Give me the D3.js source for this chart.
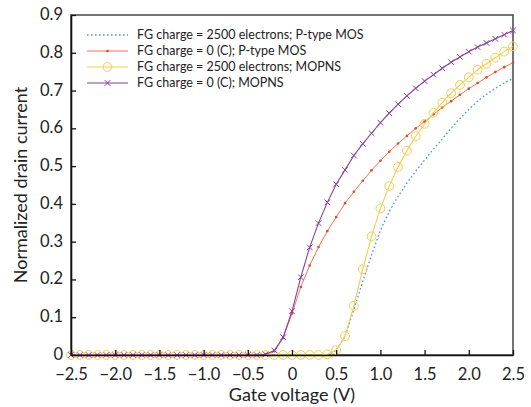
<!DOCTYPE html>
<html>
<head>
<meta charset="utf-8">
<script src="https://cdn.jsdelivr.net/npm/d3@7"></script>
<style>
  html, body { margin: 0; padding: 0; background: #fff; }
  svg { display: block; font-family: Lato, "Open Sans", sans-serif; }
</style>
</head>
<body>
<svg id="chart" width="531" height="407"></svg>
<script>
// Gate voltage sweep, 0.1 V steps from -2.5 V to 2.5 V
const gateVoltage = d3.range(51).map(i => +(-2.5 + i * 0.1).toFixed(1));

// Normalized drain current for each device / floating-gate charge
const zeros = n => new Array(n).fill(0);
const pmos2500 = zeros(30).concat([
  0.012, 0.05, 0.12, 0.195, 0.265, 0.33, 0.38, 0.42, 0.455, 0.487,
  0.516, 0.545, 0.572, 0.600, 0.626, 0.650, 0.672, 0.690, 0.706, 0.720, 0.732
]);
const pmos0 = zeros(22).concat([
  0.002, 0.01, 0.045, 0.11, 0.18, 0.237, 0.286, 0.328, 0.365, 0.402,
  0.432, 0.461, 0.489, 0.514, 0.538, 0.560, 0.580, 0.600, 0.618, 0.637,
  0.655, 0.672, 0.689, 0.705, 0.720, 0.735, 0.749, 0.762, 0.774
]);
const mopns2500 = zeros(29).concat([
  0.002, 0.013, 0.05, 0.13, 0.227, 0.314, 0.388, 0.447, 0.498, 0.541,
  0.579, 0.612, 0.641, 0.668, 0.693, 0.715, 0.735, 0.755, 0.771, 0.787,
  0.803, 0.817
]);
const mopns0 = zeros(22).concat([
  0.002, 0.012, 0.047, 0.116, 0.206, 0.285, 0.349, 0.404, 0.452, 0.490,
  0.528, 0.559, 0.587, 0.615, 0.640, 0.664, 0.686, 0.706, 0.725, 0.742,
  0.759, 0.775, 0.789, 0.803, 0.815, 0.826, 0.837, 0.848, 0.859
]);

const seriesNames = [
  "FG charge = 2500 electrons; P-type MOS",
  "FG charge = 0 (C); P-type MOS",
  "FG charge = 2500 electrons; MOPNS",
  "FG charge = 0 (C); MOPNS"
];
const xTicks = [-2.5, -2.0, -1.5, -1.0, -0.5, 0, 0.5, 1.0, 1.5, 2.0, 2.5];
const yTicks = [0, 0.1, 0.2, 0.3, 0.4, 0.5, 0.6, 0.7, 0.8, 0.9];

const series = [
  { name: seriesNames[0], values: pmos2500, color: "#3f9bd8", dash: "1.6,2.4", width: 1.3, marker: "none" },
  { name: seriesNames[1], values: pmos0, color: "#ee7556", dash: null, width: 1, marker: "dot", markColor: "#e0452a" },
  { name: seriesNames[2], values: mopns2500, color: "#f5cd4f", dash: null, width: 1.1, marker: "circle" },
  { name: seriesNames[3], values: mopns0, color: "#8a3f9e", dash: null, width: 1.1, marker: "cross" }
];

const svg = d3.select("#chart");
const margin = { left: 71, right: 18, top: 15, bottom: 52 };
const W = 531, H = 407;

const x = d3.scaleLinear().domain([-2.5, 2.5]).range([margin.left, W - margin.right]);
const y = d3.scaleLinear().domain([0, 0.9]).range([H - margin.bottom, margin.top]);

const fmt = v => {
  if (v === 0) return "0";
  const s = Math.abs(v).toFixed(1);
  return (v < 0 ? "\u2212" : "") + s;
};

// Box: top and right edges
svg.append("rect")
  .attr("x", x(-2.5)).attr("y", y(0.9))
  .attr("width", x(2.5) - x(-2.5)).attr("height", y(0) - y(0.9))
  .attr("fill", "none").attr("stroke", "#444").attr("stroke-width", 1.5);

// Curves
const line = d3.line().x((d, i) => x(gateVoltage[i])).y(d => y(d));
const plot = svg.append("g");

series.forEach(s => {
  const g = plot.append("g");
  g.append("path")
    .datum(s.values)
    .attr("d", line)
    .attr("fill", "none")
    .attr("stroke", s.color)
    .attr("stroke-width", s.width)
    .attr("stroke-dasharray", s.dash);
  const pts = s.values.map((v, i) => [x(gateVoltage[i]), y(v)]);
  if (s.marker === "dot") {
    g.selectAll("circle").data(pts).join("circle")
      .attr("cx", d => d[0]).attr("cy", d => d[1]).attr("r", 1.3)
      .attr("fill", s.markColor);
  } else if (s.marker === "circle") {
    g.selectAll("circle").data(pts).join("circle")
      .attr("cx", d => d[0]).attr("cy", d => d[1]).attr("r", 4.4)
      .attr("fill", "none").attr("stroke", s.color).attr("stroke-width", 1);
  } else if (s.marker === "cross") {
    const r = 2.8;
    g.selectAll("path.mk").data(pts).join("path").attr("class", "mk")
      .attr("d", d => `M${d[0]-r},${d[1]-r}L${d[0]+r},${d[1]+r}M${d[0]-r},${d[1]+r}L${d[0]+r},${d[1]-r}`)
      .attr("stroke", s.color).attr("stroke-width", 1).attr("fill", "none");
  }
});

// Axes with inward ticks
const xAxis = svg.append("g")
  .attr("transform", `translate(0,${y(0)})`)
  .call(d3.axisBottom(x).tickValues(xTicks).tickFormat(fmt).tickSizeInner(-5).tickSizeOuter(0).tickPadding(13));
const yAxis = svg.append("g")
  .attr("transform", `translate(${x(-2.5)},0)`)
  .call(d3.axisLeft(y).tickValues(yTicks).tickFormat(fmt).tickSizeInner(-5).tickSizeOuter(0).tickPadding(8));

[xAxis, yAxis].forEach(a => {
  a.select(".domain").attr("stroke", "#111").attr("stroke-width", 1.6);
  a.selectAll(".tick line").attr("stroke", "#111").attr("stroke-width", 1.3);
  a.selectAll(".tick text").attr("font-size", 16.5).attr("fill", "#222")
    .attr("font-family", "Lato, 'Open Sans', sans-serif");
});
yAxis.selectAll(".tick text").attr("dy", "0.27em");

// Axis titles
svg.append("text")
  .attr("x", x(0)).attr("y", 401)
  .attr("text-anchor", "middle").attr("font-size", 18).attr("fill", "#222")
  .text("Gate voltage (V)");
svg.append("text")
  .attr("transform", `translate(27,${(y(0) + y(0.9)) / 2}) rotate(-90)`)
  .attr("text-anchor", "middle").attr("font-size", 18).attr("fill", "#222")
  .text("Normalized drain current");

// Legend
const legend = svg.append("g").attr("transform", "translate(87,35)");
series.forEach((s, i) => {
  const row = legend.append("g").attr("transform", `translate(0,${i * 16})`);
  row.append("line")
    .attr("x1", 0).attr("x2", 41).attr("y1", 0).attr("y2", 0)
    .attr("stroke", s.color).attr("stroke-width", s.width)
    .attr("stroke-dasharray", s.dash);
  if (s.marker === "dot") {
    row.append("circle").attr("cx", 20.5).attr("cy", 0).attr("r", 1.3).attr("fill", s.markColor);
  } else if (s.marker === "circle") {
    row.append("circle").attr("cx", 20.5).attr("cy", 0).attr("r", 4.4)
      .attr("fill", "none").attr("stroke", s.color);
  } else if (s.marker === "cross") {
    const r = 2.8;
    row.append("path")
      .attr("d", `M${20.5-r},${-r}L${20.5+r},${r}M${20.5-r},${r}L${20.5+r},${-r}`)
      .attr("stroke", s.color).attr("fill", "none");
  }
  row.append("text")
    .attr("x", 50).attr("y", 0).attr("dy", "0.35em")
    .attr("font-size", 12.5).attr("fill", "#222")
    .text(s.name);
});
</script>
</body>
</html>
